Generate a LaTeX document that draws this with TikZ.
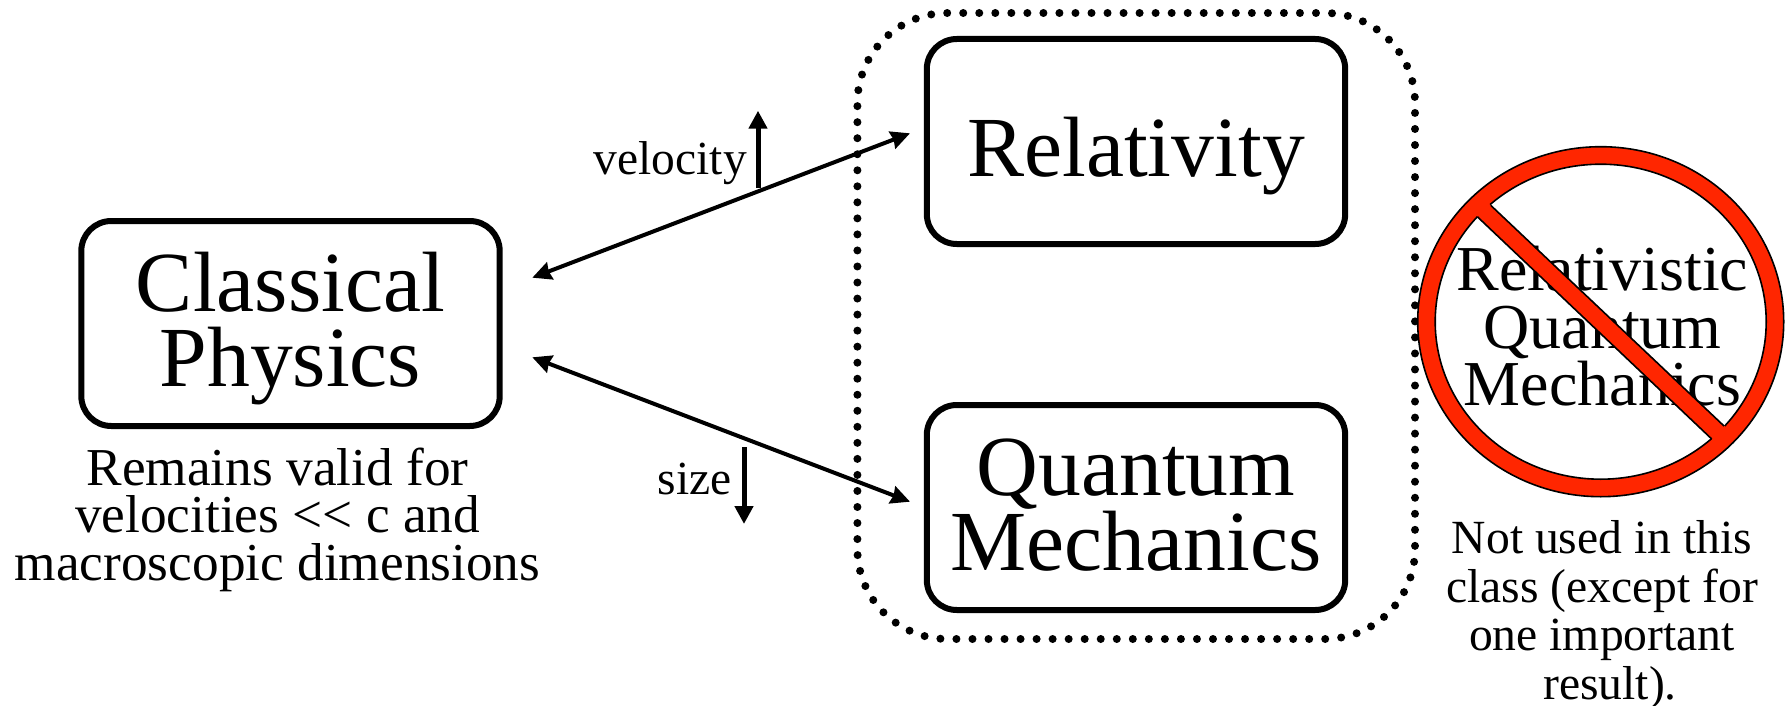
\documentclass[tikz,border=0pt]{standalone}
\usepackage{fontspec}
\setmainfont{Liberation Serif}
\usetikzlibrary{arrows.meta,calc,shapes.geometric}
\definecolor{banred}{RGB}{255,38,0}
\newcommand{\firstline}[1]{\rule{0pt}{#1pt}}
\newcommand{\lastline}{\rule[-30pt]{0pt}{30pt}}
\tikzset{
  box/.style={draw=black,line width=6pt,rounded corners=30pt,minimum width=418.4pt,minimum height=205pt,inner sep=0pt,outer sep=0pt,align=center,font=\fontsize{85.6}{75}\selectfont},
  dotbox/.style={draw=black,line width=8pt,line cap=round,dash pattern=on 0pt off 16.034pt,dash phase=7pt,rounded corners=90pt,minimum width=557.6pt,minimum height=626pt,inner sep=0pt,outer sep=0pt},
  caption/.style={align=center,inner sep=0pt,font=\fontsize{53.3}{47.5}\selectfont},
  smallcap/.style={align=center,inner sep=0pt,font=\fontsize{47.6}{48.5}\selectfont},
  tag/.style={inner sep=0pt,font=\fontsize{47.5}{50}\selectfont},
  banned/.style={align=center,inner sep=0pt,font=\fontsize{64}{57.3}\selectfont},
  link/.style={line width=4pt,{Stealth[inset=1.5pt,length=19pt,width=18pt]}-{Stealth[inset=1.5pt,length=19pt,width=18pt]}},
  trend/.style={line width=5pt,-{Triangle[length=18pt,width=18pt]}},
  ring/.style={shape=ellipse,draw=black,line width=1.6pt,inner sep=0pt,outer sep=0pt},
  barline/.style={draw=black,line width=1.6pt},
}
\begin{document}
\begin{tikzpicture}[x=1pt,y=-1pt]
\useasboundingbox (0,0) rectangle (1788,706);
\node[dotbox] (group) at (1136.2,326) {};
\node[box] (classical) at (290.5,323.5) {\firstline{80.7}Classical\\Physics\lastline};
\node[box] (relativity) at (1136,141.5) {\firstline{99}Relativity\lastline};
\node[box] (quantum) at (1136,507.5) {\firstline{80}Quantum\\Mechanics\lastline};
\node[caption,anchor=base] (classnote) at (277.5,580) {Remains valid for\\velocities <{}< c and\\macroscopic dimensions};
\coordinate (cup) at ($(classical.east)+(32.6,-45.8)$);
\coordinate (cdown) at ($(classical.east)+(32.6,33.8)$);
\coordinate (rin) at ($(relativity.west)+(-16.8,-8.2)$);
\coordinate (qin) at ($(quantum.west)+(-16.8,-5.8)$);
\draw[link] (cup) -- (rin);
\draw[link] (cdown) -- (qin);
\node[tag,anchor=base east] (vel) at (747,175) {velocity};
\node[tag,anchor=base east] (siz) at (732,494) {size};
\coordinate (v0) at (758,188);
\coordinate (v1) at (758,110.7);
\coordinate (s0) at (744,447);
\coordinate (s1) at (744,524);
\draw[trend] (v0) -- (v1);
\draw[trend] (s0) -- (s1);
% prohibition sign
\node[ring,fill=banred,minimum width=366pt,minimum height=350pt] (sign) at (1600.7,321.7) {};
\node[ring,fill=white,minimum width=331pt,minimum height=315pt] (hole) at (sign.center) {};
\node[banned,anchor=base] (rqm) at (1602.5,405.3) {Relativistic\\Quantum\\Mechanics};
\fill[banred] (1482,197) -- (1468.6,208.4) -- (1720.4,447.3) -- (1733,434) -- cycle;
\draw[barline] (1490.7,205.3) -- (1724,426);
\draw[barline] (1477.3,216.7) -- (1711.7,439);
\node[smallcap,anchor=base] (notused) at (1602,699) {Not used in this\\class (except for\\one important\\\hspace*{16pt}result).};
\end{tikzpicture}
\end{document}
